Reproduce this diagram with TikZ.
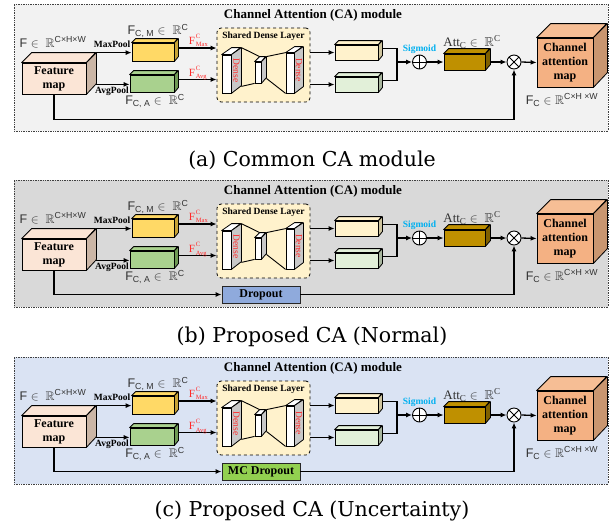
\documentclass[tikz,border=0pt]{standalone}
\usepackage{fontspec}
\usepackage{amssymb}
\setmainfont{Liberation Serif}
\newfontfamily\capfont{DejaVu Serif}
\newfontfamily\lblfont{Liberation Sans}
\usetikzlibrary{arrows.meta,calc}

\definecolor{panelA}{HTML}{F2F2F2}
\definecolor{panelB}{HTML}{D9D9D9}
\definecolor{panelC}{HTML}{DAE3F3}
\definecolor{fmfront}{HTML}{FBE5D6}
\definecolor{fmside}{HTML}{CBB6A6}
\definecolor{maxfront}{HTML}{FFD966}
\definecolor{maxside}{HTML}{C8A437}
\definecolor{avgfront}{HTML}{A9D18E}
\definecolor{avgside}{HTML}{6F9A55}
\definecolor{sdlfill}{HTML}{FFF2CC}
\definecolor{creamfront}{HTML}{FFF2CC}
\definecolor{creamside}{HTML}{CFC59F}
\definecolor{mintfront}{HTML}{E2F0D9}
\definecolor{mintside}{HTML}{A9B79F}
\definecolor{attfront}{HTML}{BF9000}
\definecolor{attside}{HTML}{7F6000}
\definecolor{camfront}{HTML}{F4B183}
\definecolor{camside}{HTML}{C99670}
\definecolor{camtop}{HTML}{F6BE95}
\definecolor{densegray}{HTML}{C8C8C8}
\definecolor{densered}{HTML}{FF2A2A}
\definecolor{sigcol}{HTML}{00B0F0}
\definecolor{dropblue}{HTML}{8FAADC}
\definecolor{dropgreen}{HTML}{92D050}

\tikzset{
  panel/.style={draw=black!75, densely dotted, line width=0.7pt, inner sep=0pt},
  title/.style={font=\bfseries\fontsize{13}{13}\selectfont, inner sep=0pt},
  box3d/.style={draw=black, line width=0.8pt, inner sep=0pt, align=center,
    font=\bfseries\fontsize{12}{14}\selectfont},
  face/.style={draw=black, line width=0.8pt, line join=round},
  arr/.style={line width=1.3pt, -{Latex[length=6pt,width=5pt]}},
  wire/.style={line width=1.3pt},
  thinwire/.style={line width=0.9pt},
  op/.style={circle, draw=black, line width=0.9pt, fill=white, minimum size=14pt, inner sep=0pt},
  plusop/.style={op, path picture={\draw[line width=0.9pt]
      (path picture bounding box.north) -- (path picture bounding box.south)
      (path picture bounding box.west) -- (path picture bounding box.east);}},
  timesop/.style={op, path picture={\draw[line width=0.9pt]
      (path picture bounding box.north west) -- (path picture bounding box.south east)
      (path picture bounding box.south west) -- (path picture bounding box.north east);}},
  lbl/.style={font=\lblfont\fontsize{12.5}{12.5}\selectfont, text=black!80, inner sep=0pt},
  attlbl/.style={font=\fontsize{13}{13}\selectfont, text=black!80, inner sep=0pt},
  pool/.style={font=\bfseries\fontsize{9.5}{9.5}\selectfont, inner sep=0pt},
  redlbl/.style={font=\fontsize{11}{11}\selectfont, text=densered, inner sep=0pt},
  redidx/.style={font=\fontsize{6.5}{6.5}\selectfont, text=densered, inner sep=0pt},
  sdlbox/.style={draw=black, dashed, line width=0.8pt, rounded corners=4pt, fill=sdlfill,
    minimum width=93pt, minimum height=74pt, inner sep=0pt},
  sdltitle/.style={font=\bfseries\fontsize{9.5}{9.5}\selectfont, inner sep=0pt},
  dfront/.style={draw=black, line width=0.8pt, fill=white, inner sep=0pt},
  densetxt/.style={font=\fontsize{9.5}{9.5}\selectfont, text=densered, inner sep=0pt, rotate=-90},
  sigtxt/.style={font=\bfseries\fontsize{9.5}{9.5}\selectfont, text=sigcol, inner sep=0pt},
  dropbox/.style={draw=black!85, line width=0.9pt, minimum width=78pt, minimum height=17pt,
    inner sep=0pt, font=\bfseries\fontsize{12}{12}\selectfont},
  caption/.style={font=\capfont\fontsize{20.5}{20.5}\selectfont, inner sep=0pt},
}

% red pooled-feature label: name, position, subscript
\newcommand{\pooledlbl}[3]{%
  \node[redlbl] (#1) at (#2) {F};
  \node[redidx, anchor=south west] (#1sup) at ([xshift=0.4pt, yshift=2pt]#1.east) {C};
  \node[redidx, anchor=north west] (#1sub) at ([xshift=0.4pt, yshift=-2pt]#1.east) {#3};
}

% cuboid: name, centre, width, height, depth, front, side, top, text
\newcommand{\cuboid}[9]{%
  \node[box3d, fill=#6, minimum width=#3pt, minimum height=#4pt] (#1) at (#2) {#9};
  \filldraw[face, fill=#8] (#1.north west) -- ++(#5pt,#5pt) -- ++(#3pt,0pt)
    -- (#1.north east) -- cycle;
  \filldraw[face, fill=#7] (#1.north east) -- ++(#5pt,#5pt) -- ++(0pt,-#4pt)
    -- (#1.south east) -- cycle;
}

% dense layer block: name, centre, width, height, dx, dy
\newcommand{\denseblk}[6]{%
  \node[dfront, minimum width=#3pt, minimum height=#4pt] (#1) at (#2) {};
  \filldraw[face, fill=white] (#1.north west) -- ++(#5pt,#6pt) -- ++(#3pt,0pt)
    -- (#1.north east) -- cycle;
  \filldraw[face, fill=densegray] (#1.north east) -- ++(#5pt,#6pt) -- ++(0pt,-#4pt)
    -- (#1.south east) -- cycle;
}

% one channel attention module: prefix, vertical offset, background
\newcommand{\capanel}[3]{%
\begin{scope}[yshift=-#2pt]
  \node[panel, fill=#3, minimum width=594pt, minimum height=127pt] (#1bg) at (311,67.5) {};
  \node[title] (#1title) at (313,15) {Channel Attention (CA) module};

  % input feature map and pooling branches
  \cuboid{#1fm}{54,78.5}{64}{31}{10}{fmfront}{fmside}{fmfront}{Feature\\map}
  \node[lbl] (#1flbl) at (53,42) {F $\in$\; $\mathbb{R}$\textsuperscript{C×H×W}};
  \cuboid{#1max}{153,52}{42}{18}{4}{maxfront}{maxside}{maxfront}{}
  \cuboid{#1avg}{152,83.5}{44}{17}{4}{avgfront}{avgside}{avgfront}{}
  \node[lbl] (#1mlbl) at (158,31) {F\textsubscript{C, M} $\in$\; $\mathbb{R}$\textsuperscript{C}};
  \node[lbl] (#1albl) at (155,101) {F\textsubscript{C, A} $\in$\; $\mathbb{R}$\textsuperscript{C}};
  \coordinate (#1mp) at ([shift={(10pt,10pt)}]#1fm.north east);
  \coordinate (#1ap) at ([shift={(10pt,10pt)}]#1fm.south east);
  \draw[arr] (#1mp) -- (#1mp -| #1max.west);
  \draw[arr] (#1ap) -- (#1ap -| #1avg.west);
  \node[pool] (#1mpl) at (112,44) {MaxPool};
  \node[pool] (#1apl) at (112,91) {AvgPool};

  % shared dense layer
  \node[sdlbox] (#1sdl) at (263.5,65) {};
  \node[sdltitle] (#1sdlt) at (263.5,36.5) {Shared Dense Layer};
  \denseblk{#1d1}{226.5,74}{9}{38}{10}{7}
  \denseblk{#1d2}{258,72.5}{6}{21}{5}{5}
  \denseblk{#1d3}{290,73}{8}{40}{9}{6}
  \node[densetxt] (#1d1t) at ([shift={(5pt,3.5pt)}]#1d1.east) {Dense};
  \node[densetxt] (#1d3t) at ([shift={(4.5pt,3pt)}]#1d3.east) {Dense};
  \draw[thinwire] ([shift={(10pt,7pt)}]#1d1.north east) -- ([shift={(5pt,5pt)}]#1d2.north west);
  \draw[thinwire] ([shift={(5pt,5pt)}]#1d2.north east) -- (#1d3.north west);
  \draw[thinwire] ([shift={(10pt,7pt)}]#1d1.south east) -- (#1d2.south west);
  \draw[thinwire] ([shift={(5pt,5pt)}]#1d2.south east) -- (#1d3.south west);

  \coordinate (#1mo) at ([shift={(4pt,4pt)}]#1max.east);
  \coordinate (#1ao) at ([shift={(4pt,4pt)}]#1avg.east);
  \draw[arr] (#1mo) -- (#1mo -| #1sdl.west);
  \draw[arr] (#1ao) -- (#1ao -| #1sdl.west);
  \pooledlbl{#1fmax}{192,40.5}{Max}
  \pooledlbl{#1favg}{192,72.5}{Avg}

  % dense outputs, fusion and attention weights
  \cuboid{#1c1}{356.5,52.5}{43}{15}{4}{creamfront}{creamside}{creamfront}{}
  \cuboid{#1c2}{356.5,84.5}{43}{15}{4}{mintfront}{mintside}{mintfront}{}
  \draw[arr] (#1c1.west -| #1sdl.east) -- (#1c1.west);
  \draw[arr] (#1c2.west -| #1sdl.east) -- (#1c2.west);
  \node[plusop] (#1add) at (419.5,62) {};
  \node[sigtxt] (#1sig) at (419.5,49.5) {Sigmoid};
  \coordinate (#1c1o) at ([shift={(4pt,4pt)}]#1c1.east);
  \coordinate (#1c2o) at ([shift={(4pt,4pt)}]#1c2.east);
  \coordinate (#1j) at (397,62);
  \draw[wire] (#1c1o) -| (#1j);
  \draw[wire] (#1c2o) -| (#1j);
  \draw[arr] (#1j) -- (#1add.west);
  \cuboid{#1att}{464.5,62}{41}{16}{5}{attfront}{attside}{attfront}{}
  \node[attlbl] (#1attl) at (472,42) {Att\textsubscript{C} $\in$\; $\mathbb{R}$\textsuperscript{C}};
  \draw[arr] (#1add.east) -- (#1att.west);
  \node[timesop] (#1mul) at (514,62) {};
  \draw[arr] ([xshift=5pt]#1att.east) -- (#1mul.west);

  % output map
  \cuboid{#1cam}{565,62.5}{56}{49}{14}{camfront}{camside}{camtop}{Channel\\attention\\map}
  \draw[arr] (#1mul.east) -- (#1cam.west);
  \node[lbl] (#1clbl) at (562,100) {F\textsubscript{C} $\in$ $\mathbb{R}$\textsuperscript{C×H ×W}};
\end{scope}}

\begin{document}
\begin{tikzpicture}[x=1pt, y=-1pt]
  \useasboundingbox (0,0) rectangle (612,531);
  \fill[white] (0,0) rectangle (612,531);

  % (a) plain skip connection
  \capanel{a}{0}{panelA}
  \draw[arr] (afm.south) |- ([yshift=-50pt]amul.south) -- (amul.south);
  \node[caption] (capa) at (312,160) {(a) Common CA module};

  % (b) dropout on the skip connection
  \capanel{b}{176}{panelB}
  \node[dropbox, fill=dropblue] (bdrop) at (261,294.5) {Dropout};
  \draw[arr] (bfm.south) |- (bdrop.west);
  \draw[arr] (bdrop.east) -| (bmul.south);
  \node[caption] (capb) at (312,337) {(b) Proposed CA (Normal)};

  % (c) Monte Carlo dropout on the skip connection
  \capanel{c}{353}{panelC}
  \node[dropbox, fill=dropgreen] (cdrop) at (261,471.5) {MC Dropout};
  \draw[arr] (cfm.south) |- (cdrop.west);
  \draw[arr] (cdrop.east) -| (cmul.south);
  \node[caption] (capc) at (312,511) {(c) Proposed CA (Uncertainty)};
\end{tikzpicture}
\end{document}
